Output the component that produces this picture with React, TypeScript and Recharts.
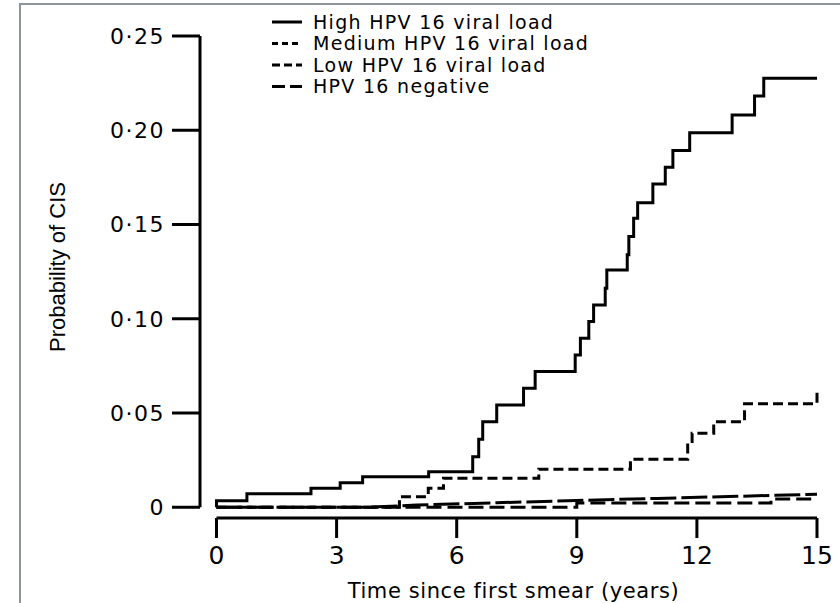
import { Label, Legend, Line, LineChart, ReferenceLine, XAxis, YAxis } from 'recharts';

// x axis: years since first smear, y axis: cumulative probability of CIS
const X_TICKS = [0, 3, 6, 9, 12, 15];
const Y_TICKS = [0, 0.05, 0.1, 0.15, 0.2, 0.25];

// axes sit a little apart from the data origin, like the printed figure
const X_MIN = -0.412;
const Y_MIN = -0.0057;

const HIGH_TIME = [
  0, 0, 0.76, 2.36, 3.09, 3.65, 5.3, 6.4, 6.55, 6.65, 7.0, 7.67, 7.96, 8.96, 9.09, 9.3, 9.42,
  9.71, 9.75, 10.26, 10.3, 10.42, 10.52, 10.9, 11.21, 11.4, 11.82, 12.88, 13.44, 13.67, 15,
];
const HIGH_PROB = [
  0, 0.0035, 0.0071, 0.0101, 0.013, 0.0162, 0.0189, 0.0268, 0.0361, 0.0454, 0.0543, 0.0631,
  0.072, 0.0808, 0.0897, 0.0985, 0.1073, 0.1162, 0.1259, 0.1339, 0.1436, 0.1533, 0.1616,
  0.1715, 0.1804, 0.1892, 0.1987, 0.2081, 0.2182, 0.2276, 0.2276,
];

const MEDIUM_TIME = [0, 4.57, 5.29, 5.67, 8.05, 10.34, 11.77, 11.88, 12.42, 13.19, 15];
const MEDIUM_PROB = [0, 0.0056, 0.0101, 0.0154, 0.0202, 0.0255, 0.0349, 0.0393, 0.0454, 0.0549, 0.0613];

const LOW_TIME = [0, 9.0, 13.85, 15];
const LOW_PROB = [0, 0.0022, 0.0044, 0.0044];

const NEG_TIME = [0, 3.8, 5, 7, 9, 11, 13, 15];
const NEG_PROB = [0, 0, 0.0012, 0.0024, 0.0036, 0.0047, 0.0058, 0.0069];

const toPoints = (time: number[], prob: number[]) => time.map((t, i) => ({ t, p: prob[i] }));

const SERIES = [
  { name: 'High HPV 16 viral load', data: toPoints(HIGH_TIME, HIGH_PROB), dash: undefined, legendDash: undefined, type: 'stepAfter' },
  { name: 'Medium HPV 16 viral load', data: toPoints(MEDIUM_TIME, MEDIUM_PROB), dash: '10 5', legendDash: '6 4', type: 'stepAfter' },
  { name: 'Low HPV 16 viral load', data: toPoints(LOW_TIME, LOW_PROB), dash: '15 6', legendDash: '8 4', type: 'stepAfter' },
  { name: 'HPV 16 negative', data: toPoints(NEG_TIME, NEG_PROB), dash: '26 5', legendDash: '13 5', type: 'linear' },
] as const;

const FONT = '"DejaVu Sans", sans-serif';

const formatProb = (v: number) => (v === 0 ? '0' : v.toFixed(2).replace('.', '·'));

function KeyBox() {
  return (
    <svg width={600} height={100} style={{ display: 'block' }}>
      {SERIES.map((s, i) => {
        const y = 22 + i * 21.5;
        return (
          <g key={s.name}>
            <line x1={272} x2={302} y1={y} y2={y} stroke="#000" strokeWidth={3} strokeDasharray={s.legendDash} />
            <text x={313} y={y} dy="0.36em" fontFamily={FONT} fontSize={19} letterSpacing={1.3} fill="#000">
              {s.name}
            </text>
          </g>
        );
      })}
    </svg>
  );
}

export default function App() {
  return (
    <div style={{ position: 'absolute', left: 0, top: 0, width: 840, height: 603, overflow: 'hidden', background: '#fff' }}>
      <div
        style={{
          position: 'absolute',
          left: 19,
          top: 3,
          width: 840,
          height: 640,
          border: '2px solid #8c959b',
          boxSizing: 'border-box',
        }}
      />
      <LineChart width={840} height={603} margin={{ top: 36, right: 23, left: 0, bottom: 0 }}>
        <XAxis
          dataKey="t"
          type="number"
          domain={[X_MIN, 15]}
          ticks={X_TICKS}
          axisLine={false}
          tickSize={20}
          tickMargin={8}
          tickLine={{ stroke: '#000', strokeWidth: 3 }}
          tick={{ fill: '#000', fontSize: 25, fontFamily: FONT }}
          height={85}
        >
          <Label
            value="Time since first smear (years)"
            position="insideBottom"
            offset={5}
            dx={5}
            fill="#000"
            fontSize={21}
            fontFamily={FONT}
            letterSpacing={0.6}
          />
        </XAxis>
        <YAxis
          type="number"
          domain={[Y_MIN, 0.25]}
          ticks={Y_TICKS}
          axisLine={false}
          tickSize={28}
          tickMargin={7}
          tickLine={{ stroke: '#000', strokeWidth: 3 }}
          tickFormatter={formatProb}
          tick={{ fill: '#000', fontSize: 22, fontFamily: FONT, letterSpacing: 1.5 }}
          width={200}
        >
          <Label
            value="Probability of CIS"
            angle={-90}
            position="center"
            dx={-43}
            dy={-10}
            fill="#000"
            fontSize={22}
            fontFamily='"Liberation Sans Narrow", "Liberation Sans", sans-serif'
          />
        </YAxis>
        <ReferenceLine segment={[{ x: X_MIN, y: 0 }, { x: X_MIN, y: 0.25 }]} stroke="#000" strokeWidth={3} />
        <ReferenceLine segment={[{ x: 0, y: Y_MIN }, { x: 15, y: Y_MIN }]} stroke="#000" strokeWidth={3} />
        <Legend
          layout="vertical"
          align="center"
          verticalAlign="middle"
          wrapperStyle={{ left: 0, top: 0, width: 600 }}
          content={() => <KeyBox />}
        />
        {SERIES.map((s) => (
          <Line
            key={s.name}
            name={s.name}
            data={s.data as unknown as { t: number; p: number }[]}
            dataKey="p"
            type={s.type}
            stroke="#000"
            strokeWidth={3}
            strokeDasharray={s.dash}
            strokeLinecap="butt"
            strokeLinejoin="miter"
            dot={false}
            activeDot={false}
            isAnimationActive={false}
          />
        ))}
      </LineChart>
    </div>
  );
}
